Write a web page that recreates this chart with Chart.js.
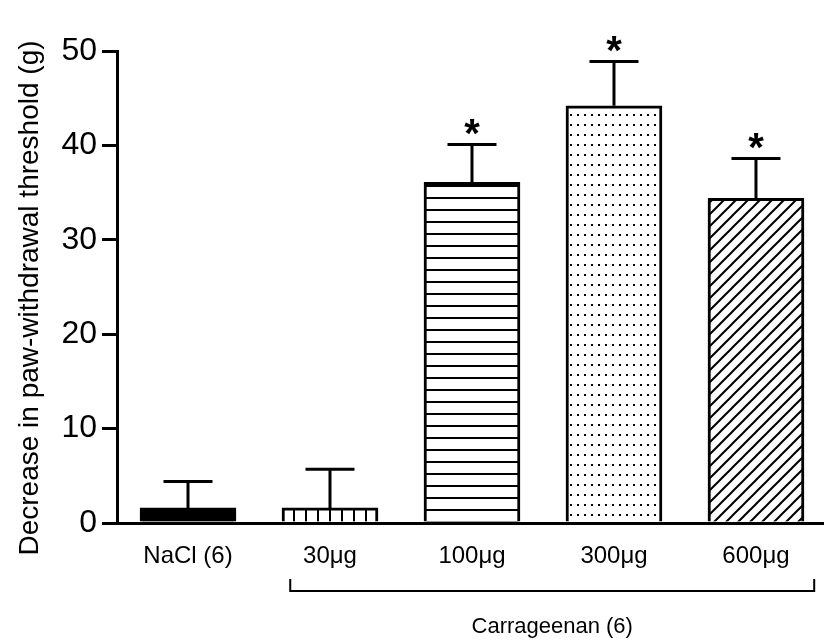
<!DOCTYPE html>
<html>
<head>
<meta charset="utf-8">
<script src="https://cdn.jsdelivr.net/npm/chart.js@4/dist/chart.umd.min.js"></script>
<style>
  html, body { margin: 0; padding: 0; background: #fff; overflow: hidden; }
  #wrap { width: 824px; height: 640px; position: relative; }
</style>
</head>
<body>
<div id="wrap"><canvas id="chart"></canvas></div>
<script>
// Groups, means and SEM of the decrease in paw-withdrawal threshold (g)
const categories = ['NaCl (6)', '30\u03BCg', '100\u03BCg', '300\u03BCg', '600\u03BCg'];
const meanValues = [1.6, 1.6, 36.1, 44.2, 34.4];
const semValues = [2.8, 4.1, 4.0, 4.7, 4.2];
const significant = [false, false, true, true, true];
const yTickValues = [0, 10, 20, 30, 40, 50];
const groupLabel = 'Carrageenan (6)';
const yTitle = 'Decrease in paw-withdrawal threshold (g)';

const FONT = '"Liberation Sans", Arial, Helvetica, sans-serif';

// Fill patterns for each bar
function makePattern(kind) {
  const c = document.createElement('canvas');
  const ctx = c.getContext('2d');
  if (kind === 'solid') return '#000';
  if (kind === 'vertical') {
    c.width = 12; c.height = 12;
    ctx.fillStyle = '#fff'; ctx.fillRect(0, 0, 12, 12);
    ctx.fillStyle = '#000'; ctx.fillRect(5, 0, 2, 12);
  } else if (kind === 'horizontal') {
    c.width = 12; c.height = 12;
    ctx.fillStyle = '#fff'; ctx.fillRect(0, 0, 12, 12);
    ctx.fillStyle = '#000'; ctx.fillRect(0, 5, 12, 2);
  } else if (kind === 'dots') {
    c.width = 7; c.height = 10;
    ctx.fillStyle = '#fff'; ctx.fillRect(0, 0, 7, 10);
    ctx.fillStyle = '#000'; ctx.fillRect(3, 4, 2, 2);
  } else if (kind === 'diagonal') {
    c.width = 12; c.height = 12;
    ctx.fillStyle = '#fff'; ctx.fillRect(0, 0, 12, 12);
    ctx.strokeStyle = '#000'; ctx.lineWidth = 2;
    ctx.beginPath();
    ctx.moveTo(-2, 14); ctx.lineTo(14, -2);
    ctx.moveTo(-8, 8); ctx.lineTo(8, -8);
    ctx.moveTo(4, 20); ctx.lineTo(20, 4);
    ctx.stroke();
  }
  return ctx.createPattern(c, 'repeat');
}
const fills = ['solid', 'vertical', 'horizontal', 'dots', 'diagonal'].map(makePattern);

// Error bars (upper SEM) and significance stars
const errorBarPlugin = {
  id: 'errorBars',
  afterDatasetsDraw(chart) {
    const { ctx, scales: { x, y } } = chart;
    ctx.save();
    ctx.strokeStyle = '#000';
    ctx.lineWidth = 3;
    ctx.fillStyle = '#000';
    meanValues.forEach((m, i) => {
      const cx = x.getPixelForValue(i);
      const yTop = y.getPixelForValue(m);
      const yErr = y.getPixelForValue(m + semValues[i]);
      ctx.beginPath();
      ctx.moveTo(cx, yTop);
      ctx.lineTo(cx, yErr);
      ctx.moveTo(cx - 24.5, yErr);
      ctx.lineTo(cx + 24.5, yErr);
      ctx.stroke();
      if (significant[i]) {
        ctx.font = 'bold 40px ' + FONT;
        ctx.textAlign = 'center';
        ctx.textBaseline = 'alphabetic';
        ctx.fillText('*', cx, yErr - 20 + 0.57 * 40);
      }
    });
    ctx.restore();
  }
};

// Axis title, carrageenan bracket and its label
const annotationPlugin = {
  id: 'annotations',
  afterDraw(chart) {
    const { ctx, scales: { x } } = chart;
    ctx.save();
    ctx.fillStyle = '#000';
    ctx.strokeStyle = '#000';

    // y-axis title
    ctx.translate(30, 298);
    ctx.rotate(-Math.PI / 2);
    ctx.font = '28px ' + FONT;
    ctx.textAlign = 'center';
    ctx.textBaseline = 'middle';
    ctx.fillText(yTitle, 0, 0);
    ctx.setTransform(1, 0, 0, 1, 0, 0);

    // bracket under the carrageenan doses
    const xl = x.getPixelForValue(0.72);
    const xr = x.getPixelForValue(4.41);
    const by = 591;
    ctx.lineWidth = 2;
    ctx.beginPath();
    ctx.moveTo(xl, by - 12);
    ctx.lineTo(xl, by);
    ctx.lineTo(xr, by);
    ctx.lineTo(xr, by - 12);
    ctx.stroke();

    ctx.font = '22px ' + FONT;
    ctx.textAlign = 'center';
    ctx.textBaseline = 'middle';
    ctx.fillText(groupLabel, (xl + xr) / 2, 627);
    ctx.restore();
  }
};

new Chart(document.getElementById('chart'), {
  type: 'bar',
  data: {
    datasets: [{
      data: meanValues.map((v, i) => ({ x: i, y: v })),
      backgroundColor: fills,
      borderColor: '#000',
      borderWidth: 3,
      borderSkipped: 'bottom',
      barThickness: 96
    }]
  },
  options: {
    responsive: true,
    maintainAspectRatio: false,
    animation: false,
    devicePixelRatio: 1,
    layout: { padding: { top: 51, left: 0, right: 0, bottom: 0 } },
    plugins: { legend: { display: false }, tooltip: { enabled: false } },
    scales: {
      x: {
        type: 'linear',
        offset: false,
        bounds: 'data',
        min: -0.5,
        max: 4.479,
        grid: { display: false, drawTicks: false, offset: false },
        border: { display: true, color: '#000', width: 3 },
        afterBuildTicks(scale) { scale.ticks = categories.map((_, i) => ({ value: i })); },
        afterFit(scale) { scale.height = 117; },
        ticks: {
          autoSkip: false,
          maxRotation: 0,
          padding: 19,
          color: '#000',
          font: { family: FONT, size: 24 },
          callback: (v) => categories[v]
        }
      },
      y: {
        min: 0,
        max: 50,
        afterBuildTicks(scale) { scale.ticks = yTickValues.map(v => ({ value: v })); },
        afterFit(scale) { scale.width = 117; },
        grid: { drawOnChartArea: false, drawTicks: true, tickLength: 15, lineWidth: 3, color: '#000' },
        border: { display: true, color: '#000', width: 3 },
        ticks: {
          padding: 5,
          color: '#000',
          font: { family: FONT, size: 32 }
        }
      }
    }
  },
  plugins: [errorBarPlugin, annotationPlugin]
});
</script>
</body>
</html>
